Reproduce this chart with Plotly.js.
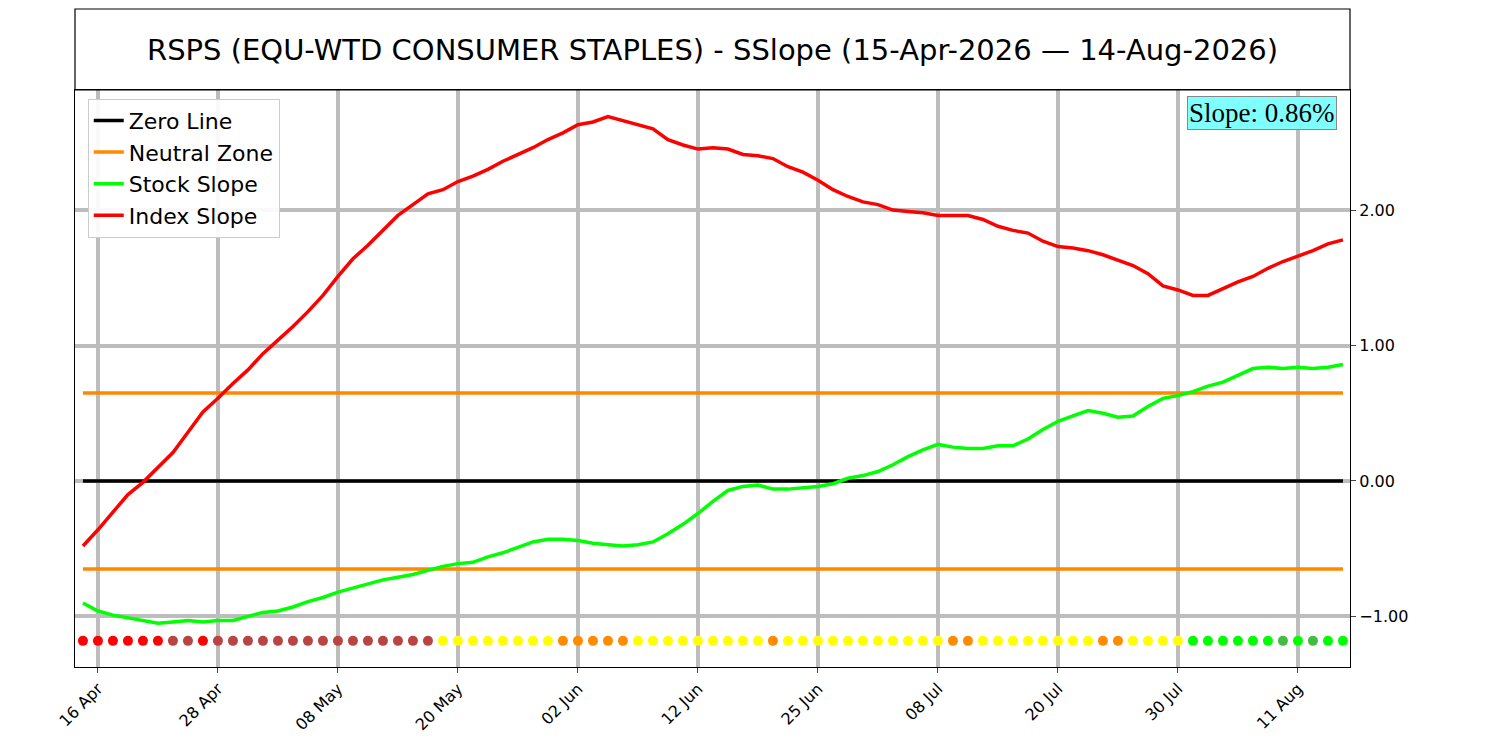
<!DOCTYPE html>
<html><head><meta charset="utf-8">
<script src="https://cdn.plot.ly/plotly-3.0.1.min.js"></script>
<style>body{margin:0;background:#fff}#c{width:1500px;height:750px}</style>
</head><body><div id="c"></div>
<script>
const indexSlope=[-0.48,-0.36,-0.23,-0.10,-0.01,0.10,0.21,0.36,0.51,0.61,0.72,0.82,0.94,1.04,1.14,1.25,1.37,1.51,1.64,1.74,1.85,1.96,2.04,2.12,2.15,2.21,2.25,2.30,2.36,2.41,2.46,2.52,2.57,2.63,2.65,2.69,2.66,2.63,2.60,2.52,2.48,2.45,2.46,2.45,2.41,2.40,2.38,2.32,2.28,2.22,2.15,2.10,2.06,2.04,2.00,1.99,1.98,1.96,1.96,1.96,1.93,1.88,1.85,1.83,1.77,1.73,1.72,1.70,1.67,1.63,1.59,1.53,1.44,1.41,1.37,1.37,1.42,1.47,1.51,1.57,1.62,1.66,1.70,1.75,1.78];
const stockSlope=[-0.90,-0.96,-0.99,-1.01,-1.03,-1.05,-1.04,-1.03,-1.04,-1.03,-1.03,-1.00,-0.97,-0.96,-0.93,-0.89,-0.86,-0.82,-0.79,-0.76,-0.73,-0.71,-0.69,-0.66,-0.63,-0.61,-0.60,-0.56,-0.53,-0.49,-0.45,-0.43,-0.43,-0.44,-0.46,-0.47,-0.48,-0.47,-0.45,-0.39,-0.32,-0.24,-0.15,-0.07,-0.04,-0.03,-0.06,-0.06,-0.05,-0.04,-0.02,0.02,0.04,0.07,0.12,0.18,0.23,0.27,0.25,0.24,0.24,0.26,0.26,0.31,0.38,0.44,0.48,0.52,0.50,0.47,0.48,0.55,0.61,0.63,0.66,0.70,0.73,0.78,0.83,0.84,0.83,0.84,0.83,0.84,0.86];
// dot codes: R red, B brown, Y yellow, O orange, G green, D dark green
const dotCodes="RRRRRRBBRBBBBBBBBBBBBBBBYYYYYYYYOOOOOYYYYYYYYYOYYYYYYYYYYYOOYYYYYYYYOOYYYYGGGGGGDGDGG";
const tickIdx=[1,9,17,25,33,41,49,57,65,73,81];
const tickLabels=["16 Apr","28 Apr","08 May","20 May","02 Jun","12 Jun","25 Jun","08 Jul","20 Jul","30 Jul","11 Aug"];
const neutral=0.65, dotLevel=-1.18, slopeText="Slope: 0.86%";
const titleText="RSPS (EQU-WTD CONSUMER STAPLES) - SSlope (15-Apr-2026 — 14-Aug-2026)";
const cmap={R:"#ff0000",B:"#b94444",Y:"#ffff00",O:"#ff8c00",G:"#00ff00",D:"#44bb44"};
const n=indexSlope.length, xs=[...Array(n).keys()];
const last=n-1;
const traces=[
 {x:[0,last],y:[0,0],mode:"lines",name:"Zero Line",line:{color:"#000",width:3.5}},
 {x:[0,last],y:[neutral,neutral],mode:"lines",name:"Neutral Zone",line:{color:"#ff8800",width:3.5}},
 {x:[0,last],y:[-neutral,-neutral],mode:"lines",showlegend:false,line:{color:"#ff8800",width:3.5}},
 {x:xs,y:stockSlope,mode:"lines",name:"Stock Slope",line:{color:"#00ff00",width:3.5}},
 {x:xs,y:indexSlope,mode:"lines",name:"Index Slope",line:{color:"#ff0000",width:3.5}},
 {x:xs,y:xs.map(()=>dotLevel),mode:"markers",showlegend:false,marker:{size:10,color:dotCodes.split("").map(c=>cmap[c])}}
];
const layout={
 width:1500,height:750,margin:{l:75,r:150,t:90,b:83},
 paper_bgcolor:"#fff",plot_bgcolor:"#fff",
 font:{family:"DejaVu Sans",color:"#000"},
 xaxis:{range:[-0.53,84.47],tickvals:tickIdx,ticktext:tickLabels,tickangle:-45,showgrid:true,gridcolor:"#bdbdbd",gridwidth:3.5,zeroline:false,showline:true,linecolor:"#000",linewidth:1.2,mirror:true,ticks:"outside",ticklen:5,tickfont:{size:16}},
 yaxis:{range:[-1.373,2.886],side:"right",tickvals:[-1,0,1,2],tickformat:".2f",showgrid:true,gridcolor:"#bdbdbd",gridwidth:3.5,zeroline:false,showline:true,linecolor:"#000",linewidth:1.2,mirror:true,ticks:"outside",ticklen:5,tickfont:{size:16}},
 showlegend:true,
 legend:{x:0.01,y:0.985,xanchor:"left",yanchor:"top",bgcolor:"rgba(255,255,255,0.9)",bordercolor:"#ccc",borderwidth:1,font:{size:22},tracegroupgap:0,itemwidth:30},
 shapes:[{type:"rect",xref:"paper",yref:"paper",x0:0,x1:1,y0:1,y1:1+81/577,line:{color:"#000",width:1.2},fillcolor:"rgba(0,0,0,0)"}],
 annotations:[
  {xref:"paper",yref:"paper",x:0.5,y:1+40/577,xanchor:"center",yanchor:"middle",text:titleText,showarrow:false,font:{size:29}},
  {xref:"paper",yref:"paper",x:0.99,y:0.99,xanchor:"right",yanchor:"top",text:slopeText,showarrow:false,font:{family:"Liberation Serif",size:27},bgcolor:"#80ffff",bordercolor:"#888",borderwidth:1,borderpad:1}
 ]
};
Plotly.newPlot("c",traces,layout,{displayModeBar:false});
</script></body></html>
